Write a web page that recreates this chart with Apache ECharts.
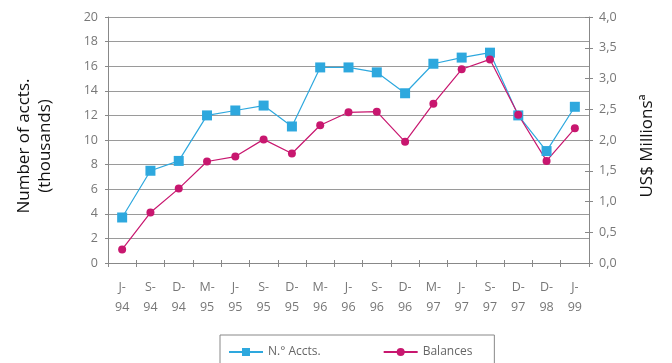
<!DOCTYPE html>
<html><head><meta charset="utf-8">
<script src="https://cdn.jsdelivr.net/npm/echarts@6/dist/echarts.min.js"></script>
<style>html,body{margin:0;padding:0;background:#fff}#c{width:672px;height:363px}</style>
</head><body><div id="c"></div>
<script>
const categories = ['J-\n94','S-\n94','D-\n94','M-\n95','J-\n95','S-\n95','D-\n95','M-\n96','J-\n96','S-\n96','D-\n96','M-\n97','J-\n97','S-\n97','D-\n97','D-\n98','J-\n99'];
const accounts = [3.7, 7.5, 8.3, 12.0, 12.4, 12.8, 11.1, 15.9, 15.9, 15.5, 13.8, 16.2, 16.7, 17.1, 12.0, 9.1, 12.7];
const balances = [0.22, 0.82, 1.21, 1.65, 1.73, 2.01, 1.78, 2.24, 2.45, 2.46, 1.97, 2.59, 3.15, 3.31, 2.41, 1.66, 2.19];
const leftTicks = {min: 0, max: 20, interval: 2};
const rightTicks = {min: 0, max: 4, interval: 0.5};

const chart = echarts.init(document.getElementById('c'));
const tickFont = {fontFamily: 'Open Sans', fontSize: 12.5, color: '#777'};
const axisGray = '#888';
chart.setOption({
  animation: false,
  grid: {left: 108, right: 83, top: 17, bottom: 100},
  xAxis: [
    {type: 'category', data: categories, boundaryGap: true,
     axisLine: {lineStyle: {color: axisGray, width: 1}},
     axisTick: {show: true, inside: false, length: 4, lineStyle: {color: axisGray}},
     axisLabel: Object.assign({margin: 14, lineHeight: 20}, tickFont)},
    {type: 'category', data: categories, boundaryGap: true, position: 'bottom', offset: 0,
     axisLine: {show: false},
     axisTick: {show: true, inside: true, length: 3, lineStyle: {color: axisGray}},
     axisLabel: {show: false}}
  ],
  yAxis: [
    {type: 'value', min: leftTicks.min, max: leftTicks.max, interval: leftTicks.interval,
     axisLine: {show: true, lineStyle: {color: axisGray}},
     axisTick: {show: true, length: 3, lineStyle: {color: axisGray}},
     axisLabel: Object.assign({margin: 10}, tickFont),
     splitLine: {show: true, lineStyle: {color: '#9a9a9a', width: 1}}},
    {type: 'value', min: rightTicks.min, max: rightTicks.max, interval: rightTicks.interval, position: 'right',
     axisLine: {show: true, lineStyle: {color: axisGray}},
     axisTick: {show: true, length: 4, lineStyle: {color: axisGray}},
     axisLabel: Object.assign({margin: 10, formatter: v => v.toFixed(1).replace('.', ',')}, tickFont),
     splitLine: {show: false}},
    {type: 'value', min: rightTicks.min, max: rightTicks.max, interval: rightTicks.interval, position: 'right', offset: 0,
     axisLine: {show: false},
     axisTick: {show: true, inside: true, length: 4, lineStyle: {color: axisGray}},
     axisLabel: {show: false},
     splitLine: {show: false}}
  ],
  legend: {
    left: 220, top: 335, itemWidth: 34, itemHeight: 10, itemGap: 62,
    padding: [11, 22, 8, 8], borderColor: axisGray, borderWidth: 1,
    textStyle: {fontFamily: 'Open Sans', fontSize: 12, color: '#666'},
    data: [{name: 'N.° Accts.'}, {name: 'Balances'}]
  },
  graphic: [
    {type: 'text', x: 35, y: 146, rotation: Math.PI / 2,
     style: {text: 'Number of accts.\n(thousands)', font: '17px "Open Sans"', fill: '#111', align: 'center', verticalAlign: 'middle', lineHeight: 21}},
    {type: 'text', x: 647, y: 146, rotation: Math.PI / 2,
     style: {text: 'US$ Millionsª', font: '17px "Open Sans"', fill: '#111', align: 'center', verticalAlign: 'middle'}}
  ],
  series: [
    {name: 'N.° Accts.', type: 'line', yAxisIndex: 0, data: accounts,
     symbol: 'rect', symbolSize: 10, color: '#2ea8de',
     lineStyle: {width: 1.2, color: '#2ea8de'}, itemStyle: {color: '#2ea8de'}},
    {name: 'Balances', type: 'line', yAxisIndex: 1, data: balances,
     symbol: 'circle', symbolSize: 8, color: '#c8176f',
     lineStyle: {width: 1.2, color: '#c8176f'}, itemStyle: {color: '#c8176f'}}
  ]
});
</script></body></html>
